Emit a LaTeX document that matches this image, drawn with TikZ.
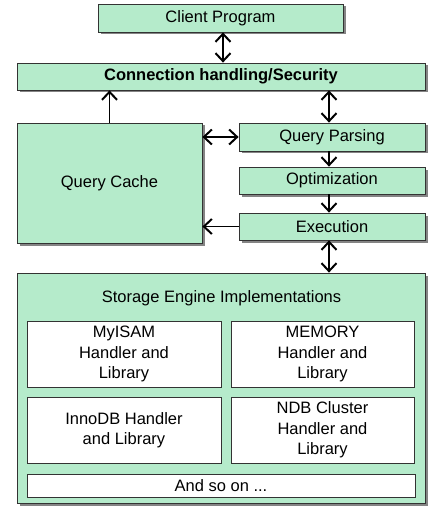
\documentclass[tikz,border=0pt]{standalone}
\usepackage{fontspec}
\setmainfont{Liberation Sans}
\usetikzlibrary{arrows.meta,shadows}
\definecolor{boxgreen}{HTML}{B5EBCB}
\definecolor{boxline}{HTML}{333333}
\begin{document}
\begin{tikzpicture}[x=1pt,y=-1pt,
  gbox/.style={draw=boxline,line width=0.8pt,fill=boxgreen,inner sep=0pt,
    drop shadow={shadow xshift=2.5pt,shadow yshift=-2.5pt,fill=black!60,opacity=0.8},
    font=\fontsize{16.5}{20}\selectfont},
  wbox/.style={draw=boxline,line width=0.8pt,fill=white,inner sep=0pt,align=center,
    font=\fontsize{16.5}{20.5}\selectfont},
  tip/.tip={Straight Barb[length=8pt,width=15pt,line width=2pt]},
  arr/.style={line width=1.7pt,-tip},
  darr/.style={line width=1.7pt,tip-tip}
]
\useasboundingbox (0,0) rectangle (445,513);
\fill[white] (0,0) rectangle (445,513);
\node[gbox,minimum width=245pt,minimum height=28pt] (client) at (220.5,18) {Client Program};
\node[gbox,minimum width=408pt,minimum height=27pt,font=\fontsize{16.5}{20}\selectfont\bfseries] (conn) at (221,76.5) {Connection handling/Security};
\node[gbox,minimum width=185pt,minimum height=120pt] (qc) at (109.5,183) {Query Cache};
\node[gbox,minimum width=186pt,minimum height=28pt] (qp) at (332,137) {Query Parsing};
\node[gbox,minimum width=186pt,minimum height=27pt] (opt) at (332,180.5) {Optimization};
\node[gbox,minimum width=186pt,minimum height=27pt] (exe) at (332,226.5) {Execution};
\node[gbox,minimum width=408pt,minimum height=230pt] (se) at (221,388) {};
\node[font=\fontsize{16.5}{20}\selectfont,inner sep=0pt] (setitle) at (221.5,298) {Storage Engine Implementations};
\node[wbox,minimum width=194pt,minimum height=66pt] (myisam) at (124,354) {MyISAM\\Handler and\\Library};
\node[wbox,minimum width=183pt,minimum height=66pt] (memory) at (322.5,354) {MEMORY\\Handler and\\Library};
\node[wbox,minimum width=194pt,minimum height=66pt] (innodb) at (124,430) {InnoDB Handler\\and Library};
\node[wbox,minimum width=183pt,minimum height=66pt] (ndb) at (322.5,430) {NDB Cluster\\Handler and\\Library};
\node[wbox,minimum width=388pt,minimum height=23pt] (more) at (221,485.5) {And so on ...};
% connectors
\draw[darr] ([xshift=2.5pt]client.south) -- ([xshift=2.5pt]client.south |- conn.north);
\draw[darr] ([xshift=-3pt]conn.south -| qp.north) -- ([xshift=-3pt]qp.north);
\draw[arr] (qc.north) -- (qc.north |- conn.south);
\draw[darr] (qc.east |- qp.west) -- (qp.west);
\draw[arr] ([xshift=-3pt]qp.south) -- ([xshift=-3pt]opt.north);
\draw[arr] ([xshift=-3pt]opt.south) -- ([xshift=-3pt]exe.north);
\draw[arr] (exe.west) -- (exe.west -| qc.east);
\draw[darr] ([xshift=-3pt]exe.south) -- ([xshift=-3pt]exe.south |- se.north);
\end{tikzpicture}
\end{document}
